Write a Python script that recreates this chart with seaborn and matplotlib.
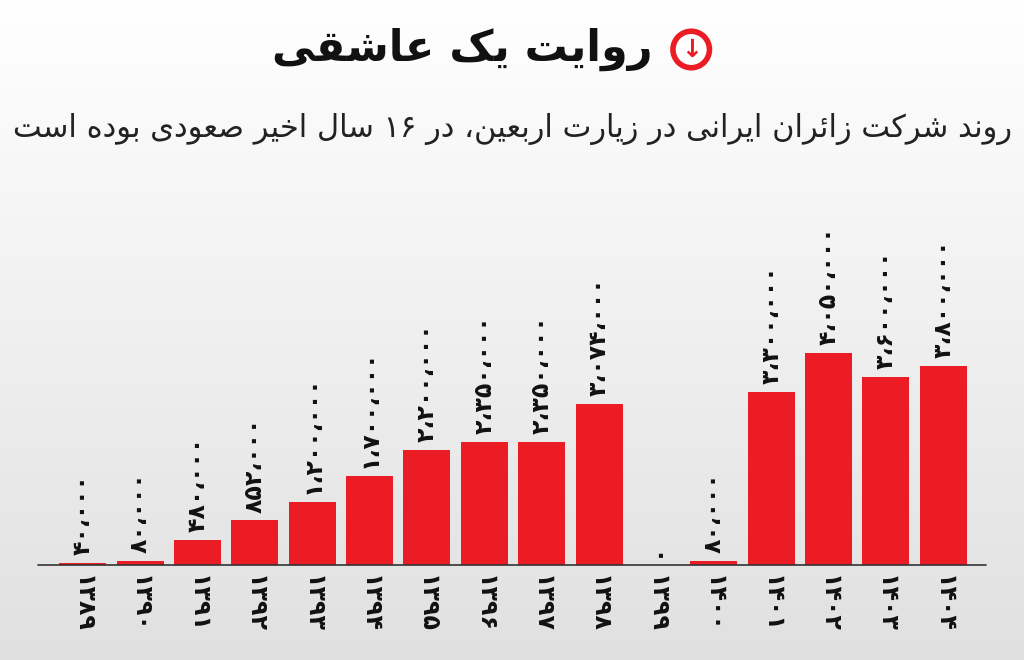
import numpy as np
import matplotlib
matplotlib.use("Agg")
import matplotlib.pyplot as plt
import seaborn as sns
import pandas as pd

years = ["۱۳۸۹","۱۳۹۰","۱۳۹۱","۱۳۹۲","۱۳۹۳","۱۳۹۴","۱۳۹۵","۱۳۹۶","۱۳۹۷","۱۳۹۸","۱۳۹۹","۱۴۰۰","۱۴۰۱","۱۴۰۲","۱۴۰۳","۱۴۰۴"]
values = [40000,80000,480000,852000,1200000,1700000,2200000,2350000,2350000,3074000,0,80000,3300000,4050000,3600000,3800000]
title = "روایت یک عاشقی"
subtitle = "روند شرکت زائران ایرانی در زیارت اربعین، در ۱۶ سال اخیر صعودی بوده است"

FORMS = {
 'ا':(0xFE8D,0xFE8E,None,None),'آ':(0xFE81,0xFE82,None,None),
 'ب':(0xFE8F,0xFE90,0xFE91,0xFE92),'پ':(0xFB56,0xFB57,0xFB58,0xFB59),
 'ت':(0xFE95,0xFE96,0xFE97,0xFE98),'ث':(0xFE99,0xFE9A,0xFE9B,0xFE9C),
 'ج':(0xFE9D,0xFE9E,0xFE9F,0xFEA0),'چ':(0xFB7A,0xFB7B,0xFB7C,0xFB7D),
 'ح':(0xFEA1,0xFEA2,0xFEA3,0xFEA4),'خ':(0xFEA5,0xFEA6,0xFEA7,0xFEA8),
 'د':(0xFEA9,0xFEAA,None,None),'ذ':(0xFEAB,0xFEAC,None,None),
 'ر':(0xFEAD,0xFEAE,None,None),'ز':(0xFEAF,0xFEB0,None,None),'ژ':(0xFB8A,0xFB8B,None,None),
 'س':(0xFEB1,0xFEB2,0xFEB3,0xFEB4),'ش':(0xFEB5,0xFEB6,0xFEB7,0xFEB8),
 'ص':(0xFEB9,0xFEBA,0xFEBB,0xFEBC),'ض':(0xFEBD,0xFEBE,0xFEBF,0xFEC0),
 'ط':(0xFEC1,0xFEC2,0xFEC3,0xFEC4),'ظ':(0xFEC5,0xFEC6,0xFEC7,0xFEC8),
 'ع':(0xFEC9,0xFECA,0xFECB,0xFECC),'غ':(0xFECD,0xFECE,0xFECF,0xFED0),
 'ف':(0xFED1,0xFED2,0xFED3,0xFED4),'ق':(0xFED5,0xFED6,0xFED7,0xFED8),
 'ک':(0xFB8E,0xFB8F,0xFB90,0xFB91),'گ':(0xFB92,0xFB93,0xFB94,0xFB95),
 'ل':(0xFEDD,0xFEDE,0xFEDF,0xFEE0),'م':(0xFEE1,0xFEE2,0xFEE3,0xFEE4),
 'ن':(0xFEE5,0xFEE6,0xFEE7,0xFEE8),'ه':(0xFEE9,0xFEEA,0xFEEB,0xFEEC),
 'و':(0xFEED,0xFEEE,None,None),'ی':(0xFBFC,0xFBFD,0xFBFE,0xFBFF),
 'ئ':(0xFE89,0xFE8A,0xFE8B,0xFE8C),
}
def dual(c): return c in FORMS and FORMS[c][2] is not None
def shape(s):
    out=[]
    for i,c in enumerate(s):
        if c not in FORMS: out.append(c); continue
        prev = s[i-1] if i>0 else ''
        nxt = s[i+1] if i+1<len(s) else ''
        jp = dual(prev)
        jn = dual(c) and nxt in FORMS
        f = FORMS[c]
        if jp and jn: code=f[3]
        elif jp: code=f[1]
        elif jn: code=f[2]
        else: code=f[0]
        out.append(chr(code))
    toks=[]; cur=''
    for ch in out:
        if '\u06f0'<=ch<='\u06f9':
            cur+=ch
        else:
            if cur: toks.append(cur); cur=''
            toks.append(ch)
    if cur: toks.append(cur)
    return ''.join(reversed(toks))

def fa_num(v):
    s = f"{v:,}".replace(",", "،")
    return s.translate(str.maketrans("0123456789","۰۱۲۳۴۵۶۷۸۹"))

sns.set_theme(style="white")
plt.rcParams['font.family'] = ['DejaVu Sans']
fig = plt.figure(figsize=(10.24,6.6), dpi=100)

bg = fig.add_axes([0,0,1,1], zorder=-10)
grad = np.linspace(1.0, 0.88, 256).reshape(-1,1)
bg.imshow(np.dstack([grad]*3), aspect='auto', extent=[0,1,0,1])
bg.set_axis_off()

df = pd.DataFrame({"year": years, "value": values})
ax = fig.add_axes([54/1024, 95/660, 918/1024, 415/660])
sns.barplot(data=df, x="year", y="value", color="#ec1c24", saturation=1, width=0.82,
            edgecolor="none", linewidth=0, ax=ax)
ax.set_ylim(0, 7.93e6)
ax.set_xlim(-0.5, 15.5)
ax.set_axis_off()
for i, v in enumerate(values):
    ax.text(i, v + 0.15e6, fa_num(v), rotation=90, ha='center', va='bottom',
            fontsize=17, fontweight='bold', color='#111')
    ax.text(i, -0.2e6, years[i], rotation=270, ha='center', va='top',
            fontsize=17, fontweight='bold', color='#111')
fig.add_artist(plt.Line2D([38/1024, 986/1024], [95/660, 95/660], color='#333', lw=1.2))

fig.text(0.637, 0.925, shape(title), ha='right', va='center', fontsize=31, fontweight='heavy', color='#111')
fig.text(0.675, 0.925, "↓", ha='center', va='center', fontsize=18, fontweight='bold', color='#ec1c24',
         bbox=dict(boxstyle='circle,pad=0.25', fc='white', ec='#ec1c24', lw=4))
fig.text(0.988, 0.805, shape(subtitle), ha='right', va='center', fontsize=22, color='#222')
fig.savefig("out.png", dpi=100)
